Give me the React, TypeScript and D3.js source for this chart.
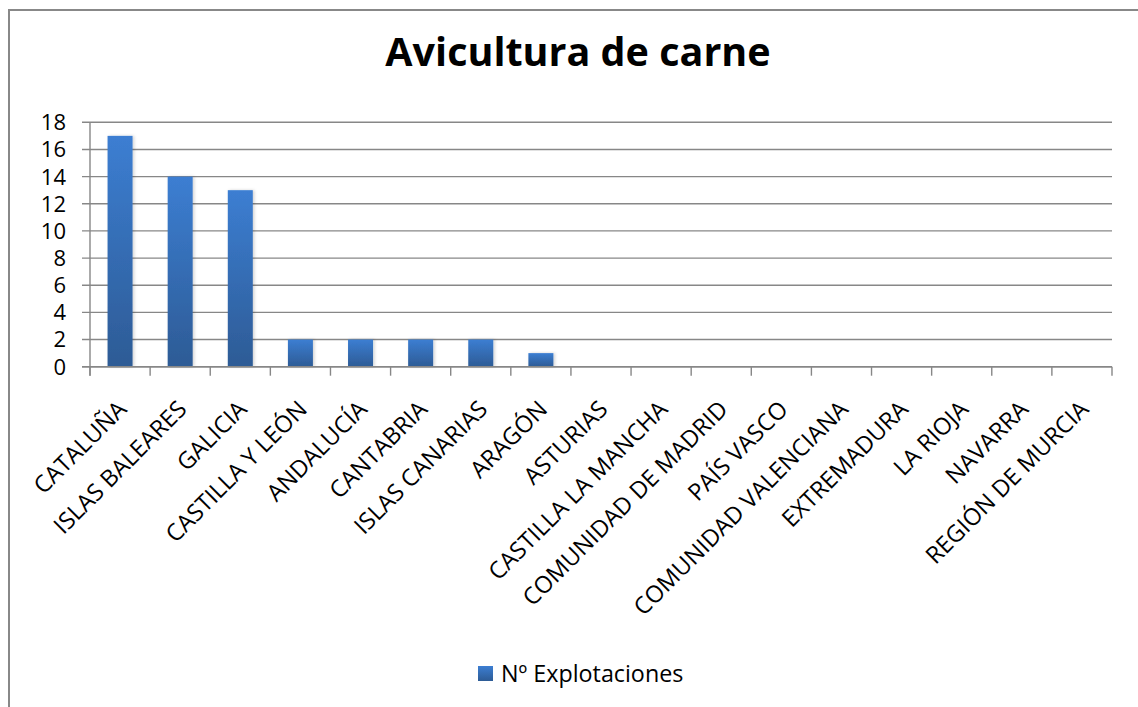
import React from "react";
import * as d3 from "d3";

const categories: string[] = [
  "CATALUÑA",
  "ISLAS BALEARES",
  "GALICIA",
  "CASTILLA Y LEÓN",
  "ANDALUCÍA",
  "CANTABRIA",
  "ISLAS CANARIAS",
  "ARAGÓN",
  "ASTURIAS",
  "CASTILLA LA MANCHA",
  "COMUNIDAD DE MADRID",
  "PAÍS VASCO",
  "COMUNIDAD VALENCIANA",
  "EXTREMADURA",
  "LA RIOJA",
  "NAVARRA",
  "REGIÓN DE MURCIA",
];
const explotaciones: number[] = [17, 14, 13, 2, 2, 2, 2, 1, 0, 0, 0, 0, 0, 0, 0, 0, 0];
const yTicks: number[] = [0, 2, 4, 6, 8, 10, 12, 14, 16, 18];
const title = "Avicultura de carne";
const seriesName = "Nº Explotaciones";

const W = 1138;
const H = 707;
const FONT = "'Open Sans', 'Liberation Sans', sans-serif";
const GRID = "#878787";

export default function App() {
  const left = 90;
  const right = 1112;
  const top = 122.3;
  const bottom = 366.7;

  const x = d3.scaleBand<string>().domain(categories).range([left, right]).paddingInner(0).paddingOuter(0);
  const y = d3.scaleLinear().domain([0, 18]).range([bottom, top]);
  const barW = 25;

  const tickXs = d3.range(categories.length + 1).map((i) => left + i * x.step());

  return (
    <svg
      width={W}
      height={H}
      style={{ position: "absolute", left: 0, top: 0, display: "block", background: "#fff" }}
      fontFamily={FONT}
    >
      <defs>
        <linearGradient id="barGrad" x1="0" y1="0" x2="0" y2="1">
          <stop offset="0%" stopColor="#3c7ed2" />
          <stop offset="100%" stopColor="#2d5b95" />
        </linearGradient>
        <filter id="shadow" x="-30%" y="-10%" width="160%" height="120%">
          <feDropShadow dx="1.5" dy="0" stdDeviation="1.5" floodColor="#000" floodOpacity="0.18" />
        </filter>
      </defs>

      {/* outer chart border */}
      <rect x={9} y={10} width={W + 20} height={H + 20} fill="none" stroke="#888" strokeWidth={2} />

      {/* title */}
      <text x={578} y={66} textAnchor="middle" fontSize={39.5} fontWeight="bold" fill="#000">
        {title}
      </text>

      {/* grid lines + y ticks */}
      {yTicks.map((t) => (
        <g key={t}>
          <line x1={left - 8} x2={right} y1={y(t)} y2={y(t)} stroke={GRID} strokeWidth={1.4} />
          <text x={66} y={y(t)} dy="0.36em" textAnchor="end" fontSize={22} fill="#000">
            {t}
          </text>
        </g>
      ))}

      {/* y axis */}
      <line x1={left} x2={left} y1={top} y2={bottom + 9} stroke={GRID} strokeWidth={1.4} />

      {/* x tick marks */}
      {tickXs.map((tx, i) => (
        <line key={i} x1={tx} x2={tx} y1={bottom} y2={bottom + 9} stroke={GRID} strokeWidth={1.4} />
      ))}

      {/* bars */}
      {categories.map((c, i) => {
        const v = explotaciones[i];
        if (v <= 0) return null;
        const cx = (x(c) as number) + x.bandwidth() / 2;
        return (
          <rect
            key={c}
            x={cx - barW / 2}
            y={y(v)}
            width={barW}
            height={y(0) - y(v)}
            fill="url(#barGrad)"
            filter="url(#shadow)"
          />
        );
      })}

      {/* x axis line on top of bars */}
      <line x1={left - 8} x2={right} y1={bottom} y2={bottom} stroke={GRID} strokeWidth={1.4} />

      {/* category labels */}
      {categories.map((c) => {
        const cx = (x(c) as number) + x.bandwidth() / 2;
        return (
          <text
            key={c}
            transform={`translate(${cx + 8},${bottom + 44}) rotate(-45)`}
            textAnchor="end"
            fontSize={23.5}
            fill="#000"
          >
            {c}
          </text>
        );
      })}

      {/* legend */}
      <rect x={478} y={666} width={15} height={15} fill="url(#barGrad)" />
      <text x={501} y={682} fontSize={23.3} fill="#000">
        {seriesName}
      </text>
    </svg>
  );
}
